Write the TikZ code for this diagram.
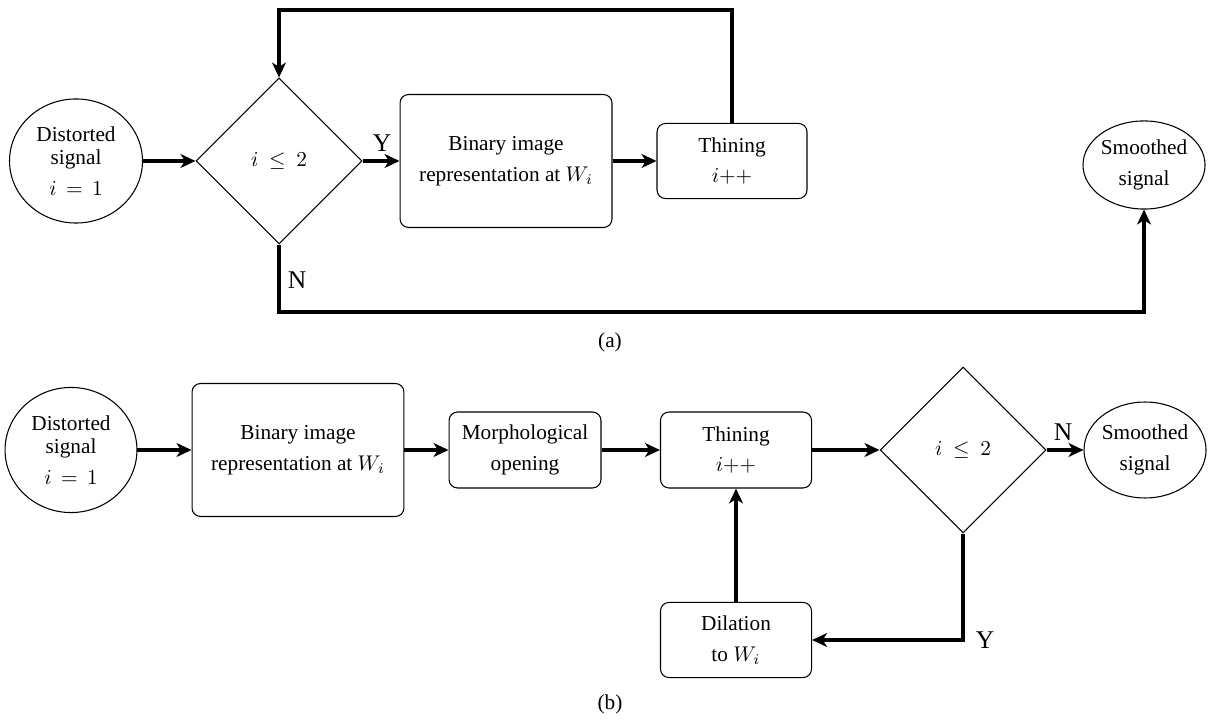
\documentclass[tikz,border=0pt]{standalone}
\usepackage{fontspec}
\setmainfont{Liberation Serif}
\usetikzlibrary{arrows.meta,shapes.geometric}
\tikzset{
  termnode/.style={ellipse, draw=black, line width=0.5pt, inner sep=0pt,
                   align=center, font=\fontsize{10}{14.5}\selectfont},
  procbox/.style={rectangle, rounded corners=4pt, draw=black, line width=0.5pt,
                  inner sep=2pt, align=center, font=\fontsize{10}{14.5}\selectfont},
  testnode/.style={diamond, draw=black, line width=0.5pt, aspect=1,
                   inner sep=0pt, minimum size=78pt},
  arrow/.style={-{Stealth[length=7pt, width=6.5pt, inset=2pt]}, line width=1.9pt},
  branchlbl/.style={font=\large},
}

\begin{document}
\begin{tikzpicture}[x=0.47pt, y=-0.47pt]
  \useasboundingbox (0,0) rectangle (1217,721);

  % (a): loop with thinning until i > 2
  \node[termnode, minimum width=62.5pt, minimum height=58.3pt] (distA) at (76,161) {Distorted\\[-3.7pt]signal\\$i\,=\,1$};
  \node[testnode] (decA) at (279,161) {$i \:\leq\: 2$};
  \node[procbox, minimum width=99.6pt, minimum height=62.5pt] (binA) at (506,161) {Binary image\\representation at $W_i$};
  \node[procbox, minimum width=70.5pt, minimum height=35.3pt] (thinA) at (732,161) {Thining\\$i{+}{+}$};
  \node[termnode, minimum width=57.3pt, minimum height=41.4pt] (smoA) at (1144,165) {Smoothed\\signal};

  \node[branchlbl] (yesA) at (382,143) {Y};
  \node[branchlbl] (noA)  at (297,280) {N};
  \node (capA) at (610,342) {(a)};

  \coordinate (loopA) at (279,10);
  \coordinate (loopB) at (1144,312);

  \draw[arrow] (distA) -- (decA);
  \draw[arrow] (decA)  -- (binA);
  \draw[arrow] (binA)  -- (thinA);
  \draw[arrow] (thinA.north) |- (loopA) -- (decA.north);
  \draw[arrow] (decA.south) |- (loopB) -- (smoA.south);

  % (b): opening, thinning and dilation
  \node[termnode, minimum width=62pt, minimum height=58.8pt] (distB) at (71,450) {Distorted\\[-3.7pt]signal\\$i\,=\,1$};
  \node[procbox, minimum width=99.6pt, minimum height=62.5pt] (binB) at (298,450) {Binary image\\representation at $W_i$};
  \node[procbox, minimum width=71.4pt, minimum height=35.7pt] (morB) at (525,450) {Morphological\\opening};
  \node[procbox, minimum width=71pt, minimum height=35.7pt] (thinB) at (736,450) {Thining\\$i{+}{+}$};
  \node[testnode] (decB) at (963,450) {$i \:\leq\: 2$};
  \node[termnode, minimum width=56.4pt, minimum height=45.1pt] (smoB) at (1145,450) {Smoothed\\signal};
  \node[procbox, minimum width=71pt, minimum height=35.3pt] (dilB) at (736,640) {Dilation\\to $W_i$};

  \node[branchlbl] (noB)  at (1063,432) {N};
  \node[branchlbl] (yesB) at (985,640) {Y};
  \node (capB) at (610,704) {(b)};

  \draw[arrow] (distB) -- (binB);
  \draw[arrow] (binB)  -- (morB);
  \draw[arrow] (morB)  -- (thinB);
  \draw[arrow] (thinB) -- (decB);
  \draw[arrow] (decB)  -- (smoB);
  \draw[arrow] (decB.south) |- (dilB.east);
  \draw[arrow] (dilB)  -- (thinB);
\end{tikzpicture}
\end{document}
